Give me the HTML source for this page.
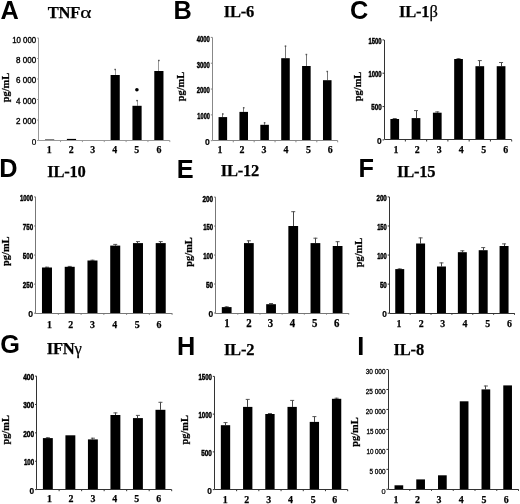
<!DOCTYPE html>
<html><head><meta charset="utf-8"><style>
html,body{margin:0;padding:0;background:#fff;}
svg{display:block;will-change:transform;}
</style></head><body>
<svg width="520" height="504" viewBox="0 0 520 504">
<rect width="520" height="504" fill="#fff"/>
<text x="0.57" y="18.6" font-family="&quot;Liberation Sans&quot;, sans-serif" font-weight="bold" font-size="25.3">A</text>
<text x="47.70" y="17.9" font-family="&quot;Liberation Serif&quot;, serif" font-weight="bold" font-size="16.5" letter-spacing="-0.2" stroke="#000" stroke-width="0.25">TNF</text>
<text transform="translate(8.6,87.55) rotate(-90)" text-anchor="middle" font-family="&quot;Liberation Serif&quot;, serif" font-weight="bold" font-size="10.4" stroke="#000" stroke-width="0.25">pg/mL</text>
<rect x="45.04" y="139.50" width="9.18" height="1.00" fill="#000"/>
<rect x="66.89" y="138.90" width="9.18" height="1.60" fill="#000"/>
<rect x="88.74" y="140.20" width="9.18" height="0.30" fill="#000"/>
<line x1="115.50" y1="75.00" x2="115.50" y2="69.00" stroke="#999" stroke-width="1"/>
<rect x="114.38" y="68.80" width="1.6" height="1.4" fill="#555"/>
<rect x="110.59" y="75.00" width="9.18" height="65.50" fill="#000"/>
<line x1="137.50" y1="105.80" x2="137.50" y2="100.10" stroke="#999" stroke-width="1"/>
<rect x="136.23" y="99.90" width="1.6" height="1.4" fill="#555"/>
<rect x="132.44" y="105.80" width="9.18" height="34.70" fill="#000"/>
<line x1="158.50" y1="71.00" x2="158.50" y2="60.00" stroke="#999" stroke-width="1"/>
<rect x="158.08" y="59.80" width="1.6" height="1.4" fill="#555"/>
<rect x="154.29" y="71.00" width="9.18" height="69.50" fill="#000"/>
<path d="M38.5,38.00 V140.5 H169.80" fill="none" stroke="#999" stroke-width="1"/>
<line x1="37.10" y1="38.00" x2="38.7" y2="38.00" stroke="#999" stroke-width="1"/>
<text x="36.20" y="42.90" text-anchor="end" font-family="&quot;Liberation Sans&quot;, sans-serif" font-size="8.2" font-weight="normal" stroke="#000" stroke-width="0.35" textLength="24.01" lengthAdjust="spacingAndGlyphs">10 000</text>
<line x1="37.10" y1="58.50" x2="38.7" y2="58.50" stroke="#999" stroke-width="1"/>
<text x="36.20" y="62.60" text-anchor="end" font-family="&quot;Liberation Sans&quot;, sans-serif" font-size="8.2" font-weight="normal" stroke="#000" stroke-width="0.35" textLength="20.13" lengthAdjust="spacingAndGlyphs">8 000</text>
<line x1="37.10" y1="79.00" x2="38.7" y2="79.00" stroke="#999" stroke-width="1"/>
<text x="36.20" y="83.10" text-anchor="end" font-family="&quot;Liberation Sans&quot;, sans-serif" font-size="8.2" font-weight="normal" stroke="#000" stroke-width="0.35" textLength="20.13" lengthAdjust="spacingAndGlyphs">6 000</text>
<line x1="37.10" y1="99.50" x2="38.7" y2="99.50" stroke="#999" stroke-width="1"/>
<text x="36.20" y="103.60" text-anchor="end" font-family="&quot;Liberation Sans&quot;, sans-serif" font-size="8.2" font-weight="normal" stroke="#000" stroke-width="0.35" textLength="20.13" lengthAdjust="spacingAndGlyphs">4 000</text>
<line x1="37.10" y1="120.00" x2="38.7" y2="120.00" stroke="#999" stroke-width="1"/>
<text x="36.20" y="124.10" text-anchor="end" font-family="&quot;Liberation Sans&quot;, sans-serif" font-size="8.2" font-weight="normal" stroke="#000" stroke-width="0.35" textLength="20.13" lengthAdjust="spacingAndGlyphs">2 000</text>
<line x1="37.10" y1="140.50" x2="38.7" y2="140.50" stroke="#999" stroke-width="1"/>
<text x="36.20" y="144.60" text-anchor="end" font-family="&quot;Liberation Sans&quot;, sans-serif" font-size="8.2" font-weight="normal" stroke="#000" stroke-width="0.24">0</text>
<line x1="60.55" y1="140.5" x2="60.55" y2="142.10" stroke="#999" stroke-width="1"/>
<line x1="82.40" y1="140.5" x2="82.40" y2="142.10" stroke="#999" stroke-width="1"/>
<line x1="104.25" y1="140.5" x2="104.25" y2="142.10" stroke="#999" stroke-width="1"/>
<line x1="126.10" y1="140.5" x2="126.10" y2="142.10" stroke="#999" stroke-width="1"/>
<line x1="147.95" y1="140.5" x2="147.95" y2="142.10" stroke="#999" stroke-width="1"/>
<line x1="169.80" y1="140.5" x2="169.80" y2="142.10" stroke="#999" stroke-width="1"/>
<text x="49.1" y="153.0" text-anchor="middle" font-family="&quot;Liberation Serif&quot;, serif" font-weight="bold" font-size="11.0" textLength="4.95" lengthAdjust="spacingAndGlyphs" stroke="#000" stroke-width="0.25">1</text>
<text x="71.25" y="153.0" text-anchor="middle" font-family="&quot;Liberation Serif&quot;, serif" font-weight="bold" font-size="11.0" textLength="4.95" lengthAdjust="spacingAndGlyphs" stroke="#000" stroke-width="0.25">2</text>
<text x="92.75" y="153.0" text-anchor="middle" font-family="&quot;Liberation Serif&quot;, serif" font-weight="bold" font-size="11.0" textLength="4.95" lengthAdjust="spacingAndGlyphs" stroke="#000" stroke-width="0.25">3</text>
<text x="114.8" y="153.0" text-anchor="middle" font-family="&quot;Liberation Serif&quot;, serif" font-weight="bold" font-size="11.0" textLength="4.95" lengthAdjust="spacingAndGlyphs" stroke="#000" stroke-width="0.25">4</text>
<text x="136.8" y="153.0" text-anchor="middle" font-family="&quot;Liberation Serif&quot;, serif" font-weight="bold" font-size="11.0" textLength="4.95" lengthAdjust="spacingAndGlyphs" stroke="#000" stroke-width="0.25">5</text>
<text x="158.95" y="153.0" text-anchor="middle" font-family="&quot;Liberation Serif&quot;, serif" font-weight="bold" font-size="11.0" textLength="4.95" lengthAdjust="spacingAndGlyphs" stroke="#000" stroke-width="0.25">6</text>
<circle cx="136.9" cy="89.7" r="1.8" fill="#000"/><text transform="translate(80.2,17.9) scale(1.3,1)" font-family="&quot;Liberation Serif&quot;, serif" font-size="16.5" stroke="#000" stroke-width="0.2">α</text>
<text x="173.50" y="18.6" font-family="&quot;Liberation Sans&quot;, sans-serif" font-weight="bold" font-size="25.3">B</text>
<text x="223.70" y="17.1" font-family="&quot;Liberation Serif&quot;, serif" font-weight="bold" font-size="16.5" letter-spacing="-0.2" stroke="#000" stroke-width="0.25">IL-6</text>
<text transform="translate(183.7,86.55) rotate(-90)" text-anchor="middle" font-family="&quot;Liberation Serif&quot;, serif" font-weight="bold" font-size="10.4" stroke="#000" stroke-width="0.25">pg/mL</text>
<line x1="222.50" y1="117.10" x2="222.50" y2="113.50" stroke="#777" stroke-width="1"/>
<rect x="222.04" y="113.30" width="1.6" height="1.4" fill="#555"/>
<rect x="218.56" y="117.10" width="8.56" height="23.60" fill="#000"/>
<line x1="243.50" y1="111.90" x2="243.50" y2="107.30" stroke="#777" stroke-width="1"/>
<rect x="242.92" y="107.10" width="1.6" height="1.4" fill="#555"/>
<rect x="239.44" y="111.90" width="8.56" height="28.80" fill="#000"/>
<line x1="264.50" y1="124.80" x2="264.50" y2="122.30" stroke="#777" stroke-width="1"/>
<rect x="263.81" y="122.10" width="1.6" height="1.4" fill="#555"/>
<rect x="260.33" y="124.80" width="8.56" height="15.90" fill="#000"/>
<line x1="285.50" y1="58.20" x2="285.50" y2="45.70" stroke="#777" stroke-width="1"/>
<rect x="284.69" y="45.50" width="1.6" height="1.4" fill="#555"/>
<rect x="281.21" y="58.20" width="8.56" height="82.50" fill="#000"/>
<line x1="306.50" y1="66.00" x2="306.50" y2="54.00" stroke="#777" stroke-width="1"/>
<rect x="305.57" y="53.80" width="1.6" height="1.4" fill="#555"/>
<rect x="302.09" y="66.00" width="8.56" height="74.70" fill="#000"/>
<line x1="327.50" y1="80.20" x2="327.50" y2="71.00" stroke="#777" stroke-width="1"/>
<rect x="326.46" y="70.80" width="1.6" height="1.4" fill="#555"/>
<rect x="322.98" y="80.20" width="8.56" height="60.50" fill="#000"/>
<path d="M212.5,37.40 V140.5 H337.70" fill="none" stroke="#888" stroke-width="1"/>
<line x1="210.80" y1="37.40" x2="212.4" y2="37.40" stroke="#888" stroke-width="1"/>
<text x="209.90" y="41.70" text-anchor="end" font-family="&quot;Liberation Sans&quot;, sans-serif" font-size="8.6" font-weight="bold" stroke="#000" stroke-width="0.45" textLength="13.20" lengthAdjust="spacingAndGlyphs">4000</text>
<line x1="210.80" y1="63.22" x2="212.4" y2="63.22" stroke="#888" stroke-width="1"/>
<text x="209.90" y="67.52" text-anchor="end" font-family="&quot;Liberation Sans&quot;, sans-serif" font-size="8.6" font-weight="bold" stroke="#000" stroke-width="0.45" textLength="13.20" lengthAdjust="spacingAndGlyphs">3000</text>
<line x1="210.80" y1="89.05" x2="212.4" y2="89.05" stroke="#888" stroke-width="1"/>
<text x="209.90" y="93.35" text-anchor="end" font-family="&quot;Liberation Sans&quot;, sans-serif" font-size="8.6" font-weight="bold" stroke="#000" stroke-width="0.45" textLength="13.20" lengthAdjust="spacingAndGlyphs">2000</text>
<line x1="210.80" y1="114.88" x2="212.4" y2="114.88" stroke="#888" stroke-width="1"/>
<text x="209.90" y="119.17" text-anchor="end" font-family="&quot;Liberation Sans&quot;, sans-serif" font-size="8.6" font-weight="bold" stroke="#000" stroke-width="0.45" textLength="12.54" lengthAdjust="spacingAndGlyphs">1000</text>
<line x1="210.80" y1="140.70" x2="212.4" y2="140.70" stroke="#888" stroke-width="1"/>
<text x="209.90" y="145.00" text-anchor="end" font-family="&quot;Liberation Sans&quot;, sans-serif" font-size="8.6" font-weight="bold" stroke="#000" stroke-width="0.21">0</text>
<line x1="233.28" y1="140.7" x2="233.28" y2="142.30" stroke="#888" stroke-width="1"/>
<line x1="254.17" y1="140.7" x2="254.17" y2="142.30" stroke="#888" stroke-width="1"/>
<line x1="275.05" y1="140.7" x2="275.05" y2="142.30" stroke="#888" stroke-width="1"/>
<line x1="295.93" y1="140.7" x2="295.93" y2="142.30" stroke="#888" stroke-width="1"/>
<line x1="316.82" y1="140.7" x2="316.82" y2="142.30" stroke="#888" stroke-width="1"/>
<line x1="337.70" y1="140.7" x2="337.70" y2="142.30" stroke="#888" stroke-width="1"/>
<text x="220.0" y="153.2" text-anchor="middle" font-family="&quot;Liberation Serif&quot;, serif" font-weight="bold" font-size="11.0" textLength="4.95" lengthAdjust="spacingAndGlyphs" stroke="#000" stroke-width="0.25">1</text>
<text x="242.0" y="153.2" text-anchor="middle" font-family="&quot;Liberation Serif&quot;, serif" font-weight="bold" font-size="11.0" textLength="4.95" lengthAdjust="spacingAndGlyphs" stroke="#000" stroke-width="0.25">2</text>
<text x="263.9" y="153.2" text-anchor="middle" font-family="&quot;Liberation Serif&quot;, serif" font-weight="bold" font-size="11.0" textLength="4.95" lengthAdjust="spacingAndGlyphs" stroke="#000" stroke-width="0.25">3</text>
<text x="285.9" y="153.2" text-anchor="middle" font-family="&quot;Liberation Serif&quot;, serif" font-weight="bold" font-size="11.0" textLength="4.95" lengthAdjust="spacingAndGlyphs" stroke="#000" stroke-width="0.25">4</text>
<text x="308.4" y="153.2" text-anchor="middle" font-family="&quot;Liberation Serif&quot;, serif" font-weight="bold" font-size="11.0" textLength="4.95" lengthAdjust="spacingAndGlyphs" stroke="#000" stroke-width="0.25">5</text>
<text x="330.3" y="153.2" text-anchor="middle" font-family="&quot;Liberation Serif&quot;, serif" font-weight="bold" font-size="11.0" textLength="4.95" lengthAdjust="spacingAndGlyphs" stroke="#000" stroke-width="0.25">6</text>
<text x="349.96" y="18.5" font-family="&quot;Liberation Sans&quot;, sans-serif" font-weight="bold" font-size="25.3">C</text>
<text x="399.00" y="17.4" font-family="&quot;Liberation Serif&quot;, serif" font-weight="bold" font-size="16.5" letter-spacing="-0.2" stroke="#000" stroke-width="0.25">IL-1<tspan font-weight="normal">β</tspan></text>
<text transform="translate(360.7,86.45) rotate(-90)" text-anchor="middle" font-family="&quot;Liberation Serif&quot;, serif" font-weight="bold" font-size="10.4" stroke="#000" stroke-width="0.25">pg/mL</text>
<line x1="394.50" y1="119.00" x2="394.50" y2="118.10" stroke="#444" stroke-width="1"/>
<line x1="392.73" y1="118.50" x2="396.73" y2="118.50" stroke="#555" stroke-width="1"/>
<rect x="390.37" y="119.00" width="8.72" height="20.90" fill="#000"/>
<line x1="416.50" y1="118.10" x2="416.50" y2="110.20" stroke="#444" stroke-width="1"/>
<line x1="414.00" y1="110.60" x2="418.00" y2="110.60" stroke="#555" stroke-width="1"/>
<rect x="411.64" y="118.10" width="8.72" height="21.80" fill="#000"/>
<line x1="437.50" y1="112.70" x2="437.50" y2="111.50" stroke="#444" stroke-width="1"/>
<line x1="435.27" y1="111.90" x2="439.27" y2="111.90" stroke="#555" stroke-width="1"/>
<rect x="432.91" y="112.70" width="8.72" height="27.20" fill="#000"/>
<line x1="458.50" y1="59.00" x2="458.50" y2="58.30" stroke="#444" stroke-width="1"/>
<line x1="456.53" y1="58.70" x2="460.53" y2="58.70" stroke="#555" stroke-width="1"/>
<rect x="454.17" y="59.00" width="8.72" height="80.90" fill="#000"/>
<line x1="479.50" y1="66.20" x2="479.50" y2="60.20" stroke="#444" stroke-width="1"/>
<line x1="477.80" y1="60.60" x2="481.80" y2="60.60" stroke="#555" stroke-width="1"/>
<rect x="475.44" y="66.20" width="8.72" height="73.70" fill="#000"/>
<line x1="501.50" y1="66.20" x2="501.50" y2="62.10" stroke="#444" stroke-width="1"/>
<line x1="499.07" y1="62.50" x2="503.07" y2="62.50" stroke="#555" stroke-width="1"/>
<rect x="496.71" y="66.20" width="8.72" height="73.70" fill="#000"/>
<path d="M384.5,39.90 V139.5 H511.70" fill="none" stroke="#333" stroke-width="1"/>
<line x1="382.50" y1="39.90" x2="384.1" y2="39.90" stroke="#333" stroke-width="1"/>
<text x="381.60" y="43.80" text-anchor="end" font-family="&quot;Liberation Sans&quot;, sans-serif" font-size="8.3" font-weight="bold" stroke="#000" stroke-width="0.45" textLength="13.11" lengthAdjust="spacingAndGlyphs">1500</text>
<line x1="382.50" y1="73.23" x2="384.1" y2="73.23" stroke="#333" stroke-width="1"/>
<text x="381.60" y="77.13" text-anchor="end" font-family="&quot;Liberation Sans&quot;, sans-serif" font-size="8.3" font-weight="bold" stroke="#000" stroke-width="0.45" textLength="13.11" lengthAdjust="spacingAndGlyphs">1000</text>
<line x1="382.50" y1="106.57" x2="384.1" y2="106.57" stroke="#333" stroke-width="1"/>
<text x="381.60" y="110.47" text-anchor="end" font-family="&quot;Liberation Sans&quot;, sans-serif" font-size="8.3" font-weight="bold" stroke="#000" stroke-width="0.45" textLength="10.35" lengthAdjust="spacingAndGlyphs">500</text>
<line x1="382.50" y1="139.90" x2="384.1" y2="139.90" stroke="#333" stroke-width="1"/>
<text x="381.60" y="143.80" text-anchor="end" font-family="&quot;Liberation Sans&quot;, sans-serif" font-size="8.3" font-weight="bold" stroke="#000" stroke-width="0.21">0</text>
<line x1="405.37" y1="139.9" x2="405.37" y2="141.50" stroke="#333" stroke-width="1"/>
<line x1="426.63" y1="139.9" x2="426.63" y2="141.50" stroke="#333" stroke-width="1"/>
<line x1="447.90" y1="139.9" x2="447.90" y2="141.50" stroke="#333" stroke-width="1"/>
<line x1="469.17" y1="139.9" x2="469.17" y2="141.50" stroke="#333" stroke-width="1"/>
<line x1="490.43" y1="139.9" x2="490.43" y2="141.50" stroke="#333" stroke-width="1"/>
<line x1="511.70" y1="139.9" x2="511.70" y2="141.50" stroke="#333" stroke-width="1"/>
<text x="396.0" y="153.0" text-anchor="middle" font-family="&quot;Liberation Serif&quot;, serif" font-weight="bold" font-size="11.0" textLength="4.95" lengthAdjust="spacingAndGlyphs" stroke="#000" stroke-width="0.25">1</text>
<text x="417.1" y="153.0" text-anchor="middle" font-family="&quot;Liberation Serif&quot;, serif" font-weight="bold" font-size="11.0" textLength="4.95" lengthAdjust="spacingAndGlyphs" stroke="#000" stroke-width="0.25">2</text>
<text x="439.1" y="153.0" text-anchor="middle" font-family="&quot;Liberation Serif&quot;, serif" font-weight="bold" font-size="11.0" textLength="4.95" lengthAdjust="spacingAndGlyphs" stroke="#000" stroke-width="0.25">3</text>
<text x="461.1" y="153.0" text-anchor="middle" font-family="&quot;Liberation Serif&quot;, serif" font-weight="bold" font-size="11.0" textLength="4.95" lengthAdjust="spacingAndGlyphs" stroke="#000" stroke-width="0.25">4</text>
<text x="483.6" y="153.0" text-anchor="middle" font-family="&quot;Liberation Serif&quot;, serif" font-weight="bold" font-size="11.0" textLength="4.95" lengthAdjust="spacingAndGlyphs" stroke="#000" stroke-width="0.25">5</text>
<text x="505.7" y="153.0" text-anchor="middle" font-family="&quot;Liberation Serif&quot;, serif" font-weight="bold" font-size="11.0" textLength="4.95" lengthAdjust="spacingAndGlyphs" stroke="#000" stroke-width="0.25">6</text>
<text x="-0.70" y="176.7" font-family="&quot;Liberation Sans&quot;, sans-serif" font-weight="bold" font-size="25.3">D</text>
<text x="47.20" y="176.5" font-family="&quot;Liberation Serif&quot;, serif" font-weight="bold" font-size="16.5" letter-spacing="-0.2" stroke="#000" stroke-width="0.25">IL-10</text>
<text transform="translate(8.7,251.20) rotate(-90)" text-anchor="middle" font-family="&quot;Liberation Serif&quot;, serif" font-weight="bold" font-size="10.4" stroke="#000" stroke-width="0.25">pg/mL</text>
<line x1="46.50" y1="267.50" x2="46.50" y2="266.80" stroke="#444" stroke-width="1"/>
<line x1="44.98" y1="267.20" x2="48.98" y2="267.20" stroke="#555" stroke-width="1"/>
<rect x="41.97" y="267.50" width="10.01" height="45.70" fill="#000"/>
<line x1="69.50" y1="266.80" x2="69.50" y2="266.00" stroke="#444" stroke-width="1"/>
<line x1="67.72" y1="266.40" x2="71.72" y2="266.40" stroke="#555" stroke-width="1"/>
<rect x="64.72" y="266.80" width="10.01" height="46.40" fill="#000"/>
<line x1="92.50" y1="260.50" x2="92.50" y2="259.80" stroke="#444" stroke-width="1"/>
<line x1="90.47" y1="260.20" x2="94.47" y2="260.20" stroke="#555" stroke-width="1"/>
<rect x="87.47" y="260.50" width="10.01" height="52.70" fill="#000"/>
<line x1="115.50" y1="245.60" x2="115.50" y2="244.00" stroke="#444" stroke-width="1"/>
<line x1="113.22" y1="244.40" x2="117.22" y2="244.40" stroke="#555" stroke-width="1"/>
<rect x="110.22" y="245.60" width="10.01" height="67.60" fill="#000"/>
<line x1="137.50" y1="243.10" x2="137.50" y2="241.20" stroke="#444" stroke-width="1"/>
<line x1="135.97" y1="241.60" x2="139.97" y2="241.60" stroke="#555" stroke-width="1"/>
<rect x="132.97" y="243.10" width="10.01" height="70.10" fill="#000"/>
<line x1="160.50" y1="243.10" x2="160.50" y2="241.20" stroke="#444" stroke-width="1"/>
<line x1="158.72" y1="241.60" x2="162.72" y2="241.60" stroke="#555" stroke-width="1"/>
<rect x="155.72" y="243.10" width="10.01" height="70.10" fill="#000"/>
<path d="M35.5,196.90 V313.5 H172.10" fill="none" stroke="#777" stroke-width="1"/>
<line x1="34.00" y1="196.90" x2="35.6" y2="196.90" stroke="#777" stroke-width="1"/>
<text x="33.10" y="200.70" text-anchor="end" font-family="&quot;Liberation Sans&quot;, sans-serif" font-size="8.6" font-weight="bold" stroke="#000" stroke-width="0.45" textLength="13.11" lengthAdjust="spacingAndGlyphs">1000</text>
<line x1="34.00" y1="225.97" x2="35.6" y2="225.97" stroke="#777" stroke-width="1"/>
<text x="33.10" y="229.78" text-anchor="end" font-family="&quot;Liberation Sans&quot;, sans-serif" font-size="8.6" font-weight="bold" stroke="#000" stroke-width="0.45" textLength="10.35" lengthAdjust="spacingAndGlyphs">750</text>
<line x1="34.00" y1="255.05" x2="35.6" y2="255.05" stroke="#777" stroke-width="1"/>
<text x="33.10" y="258.85" text-anchor="end" font-family="&quot;Liberation Sans&quot;, sans-serif" font-size="8.6" font-weight="bold" stroke="#000" stroke-width="0.45" textLength="10.35" lengthAdjust="spacingAndGlyphs">500</text>
<line x1="34.00" y1="284.12" x2="35.6" y2="284.12" stroke="#777" stroke-width="1"/>
<text x="33.10" y="287.93" text-anchor="end" font-family="&quot;Liberation Sans&quot;, sans-serif" font-size="8.6" font-weight="bold" stroke="#000" stroke-width="0.45" textLength="10.35" lengthAdjust="spacingAndGlyphs">250</text>
<line x1="34.00" y1="313.20" x2="35.6" y2="313.20" stroke="#777" stroke-width="1"/>
<text x="33.10" y="317.00" text-anchor="end" font-family="&quot;Liberation Sans&quot;, sans-serif" font-size="8.6" font-weight="bold" stroke="#000" stroke-width="0.21">0</text>
<line x1="58.35" y1="313.2" x2="58.35" y2="314.80" stroke="#777" stroke-width="1"/>
<line x1="81.10" y1="313.2" x2="81.10" y2="314.80" stroke="#777" stroke-width="1"/>
<line x1="103.85" y1="313.2" x2="103.85" y2="314.80" stroke="#777" stroke-width="1"/>
<line x1="126.60" y1="313.2" x2="126.60" y2="314.80" stroke="#777" stroke-width="1"/>
<line x1="149.35" y1="313.2" x2="149.35" y2="314.80" stroke="#777" stroke-width="1"/>
<line x1="172.10" y1="313.2" x2="172.10" y2="314.80" stroke="#777" stroke-width="1"/>
<text x="49.4" y="327.8" text-anchor="middle" font-family="&quot;Liberation Serif&quot;, serif" font-weight="bold" font-size="11.0" textLength="4.95" lengthAdjust="spacingAndGlyphs" stroke="#000" stroke-width="0.25">1</text>
<text x="70.6" y="327.8" text-anchor="middle" font-family="&quot;Liberation Serif&quot;, serif" font-weight="bold" font-size="11.0" textLength="4.95" lengthAdjust="spacingAndGlyphs" stroke="#000" stroke-width="0.25">2</text>
<text x="92.4" y="327.8" text-anchor="middle" font-family="&quot;Liberation Serif&quot;, serif" font-weight="bold" font-size="11.0" textLength="4.95" lengthAdjust="spacingAndGlyphs" stroke="#000" stroke-width="0.25">3</text>
<text x="114.7" y="327.8" text-anchor="middle" font-family="&quot;Liberation Serif&quot;, serif" font-weight="bold" font-size="11.0" textLength="4.95" lengthAdjust="spacingAndGlyphs" stroke="#000" stroke-width="0.25">4</text>
<text x="137.2" y="327.8" text-anchor="middle" font-family="&quot;Liberation Serif&quot;, serif" font-weight="bold" font-size="11.0" textLength="4.95" lengthAdjust="spacingAndGlyphs" stroke="#000" stroke-width="0.25">5</text>
<text x="159.05" y="327.8" text-anchor="middle" font-family="&quot;Liberation Serif&quot;, serif" font-weight="bold" font-size="11.0" textLength="4.95" lengthAdjust="spacingAndGlyphs" stroke="#000" stroke-width="0.25">6</text>
<text x="176.70" y="177.7" font-family="&quot;Liberation Sans&quot;, sans-serif" font-weight="bold" font-size="25.3">E</text>
<text x="220.70" y="175.9" font-family="&quot;Liberation Serif&quot;, serif" font-weight="bold" font-size="16.5" letter-spacing="-0.2" stroke="#000" stroke-width="0.25">IL-12</text>
<text transform="translate(191.7,252.00) rotate(-90)" text-anchor="middle" font-family="&quot;Liberation Serif&quot;, serif" font-weight="bold" font-size="10.4" stroke="#000" stroke-width="0.25">pg/mL</text>
<line x1="226.50" y1="307.10" x2="226.50" y2="306.40" stroke="#444" stroke-width="1"/>
<line x1="224.69" y1="306.80" x2="228.69" y2="306.80" stroke="#555" stroke-width="1"/>
<rect x="221.81" y="307.10" width="9.76" height="5.90" fill="#000"/>
<line x1="248.50" y1="243.10" x2="248.50" y2="240.40" stroke="#444" stroke-width="1"/>
<line x1="246.88" y1="240.80" x2="250.88" y2="240.80" stroke="#555" stroke-width="1"/>
<rect x="243.99" y="243.10" width="9.76" height="69.90" fill="#000"/>
<line x1="271.50" y1="304.20" x2="271.50" y2="303.10" stroke="#444" stroke-width="1"/>
<line x1="269.06" y1="303.50" x2="273.06" y2="303.50" stroke="#555" stroke-width="1"/>
<rect x="266.18" y="304.20" width="9.76" height="8.80" fill="#000"/>
<line x1="293.50" y1="226.00" x2="293.50" y2="211.30" stroke="#444" stroke-width="1"/>
<line x1="291.24" y1="211.70" x2="295.24" y2="211.70" stroke="#555" stroke-width="1"/>
<rect x="288.36" y="226.00" width="9.76" height="87.00" fill="#000"/>
<line x1="315.50" y1="243.10" x2="315.50" y2="237.80" stroke="#444" stroke-width="1"/>
<line x1="313.43" y1="238.20" x2="317.43" y2="238.20" stroke="#555" stroke-width="1"/>
<rect x="310.54" y="243.10" width="9.76" height="69.90" fill="#000"/>
<line x1="337.50" y1="246.00" x2="337.50" y2="241.30" stroke="#444" stroke-width="1"/>
<line x1="335.61" y1="241.70" x2="339.61" y2="241.70" stroke="#555" stroke-width="1"/>
<rect x="332.73" y="246.00" width="9.76" height="67.00" fill="#000"/>
<path d="M215.5,197.10 V313.5 H348.70" fill="none" stroke="#777" stroke-width="1"/>
<line x1="214.00" y1="197.10" x2="215.6" y2="197.10" stroke="#777" stroke-width="1"/>
<text x="213.10" y="201.50" text-anchor="end" font-family="&quot;Liberation Sans&quot;, sans-serif" font-size="8.4" font-weight="bold" stroke="#000" stroke-width="0.45" textLength="10.65" lengthAdjust="spacingAndGlyphs">200</text>
<line x1="214.00" y1="226.07" x2="215.6" y2="226.07" stroke="#777" stroke-width="1"/>
<text x="213.10" y="230.47" text-anchor="end" font-family="&quot;Liberation Sans&quot;, sans-serif" font-size="8.4" font-weight="bold" stroke="#000" stroke-width="0.45" textLength="9.94" lengthAdjust="spacingAndGlyphs">150</text>
<line x1="214.00" y1="255.05" x2="215.6" y2="255.05" stroke="#777" stroke-width="1"/>
<text x="213.10" y="259.45" text-anchor="end" font-family="&quot;Liberation Sans&quot;, sans-serif" font-size="8.4" font-weight="bold" stroke="#000" stroke-width="0.45" textLength="9.94" lengthAdjust="spacingAndGlyphs">100</text>
<line x1="214.00" y1="284.02" x2="215.6" y2="284.02" stroke="#777" stroke-width="1"/>
<text x="213.10" y="288.42" text-anchor="end" font-family="&quot;Liberation Sans&quot;, sans-serif" font-size="8.4" font-weight="bold" stroke="#000" stroke-width="0.45" textLength="7.10" lengthAdjust="spacingAndGlyphs">50</text>
<line x1="214.00" y1="313.00" x2="215.6" y2="313.00" stroke="#777" stroke-width="1"/>
<text x="213.10" y="317.40" text-anchor="end" font-family="&quot;Liberation Sans&quot;, sans-serif" font-size="8.4" font-weight="bold" stroke="#000" stroke-width="0.21">0</text>
<line x1="237.78" y1="313.0" x2="237.78" y2="314.60" stroke="#777" stroke-width="1"/>
<line x1="259.97" y1="313.0" x2="259.97" y2="314.60" stroke="#777" stroke-width="1"/>
<line x1="282.15" y1="313.0" x2="282.15" y2="314.60" stroke="#777" stroke-width="1"/>
<line x1="304.33" y1="313.0" x2="304.33" y2="314.60" stroke="#777" stroke-width="1"/>
<line x1="326.52" y1="313.0" x2="326.52" y2="314.60" stroke="#777" stroke-width="1"/>
<line x1="348.70" y1="313.0" x2="348.70" y2="314.60" stroke="#777" stroke-width="1"/>
<text x="226.9" y="326.6" text-anchor="middle" font-family="&quot;Liberation Serif&quot;, serif" font-weight="bold" font-size="12.0" textLength="5.40" lengthAdjust="spacingAndGlyphs" stroke="#000" stroke-width="0.25">1</text>
<text x="248.9" y="326.6" text-anchor="middle" font-family="&quot;Liberation Serif&quot;, serif" font-weight="bold" font-size="12.0" textLength="5.40" lengthAdjust="spacingAndGlyphs" stroke="#000" stroke-width="0.25">2</text>
<text x="270.5" y="326.6" text-anchor="middle" font-family="&quot;Liberation Serif&quot;, serif" font-weight="bold" font-size="12.0" textLength="5.40" lengthAdjust="spacingAndGlyphs" stroke="#000" stroke-width="0.25">3</text>
<text x="292.4" y="326.6" text-anchor="middle" font-family="&quot;Liberation Serif&quot;, serif" font-weight="bold" font-size="12.0" textLength="5.40" lengthAdjust="spacingAndGlyphs" stroke="#000" stroke-width="0.25">4</text>
<text x="314.65" y="326.6" text-anchor="middle" font-family="&quot;Liberation Serif&quot;, serif" font-weight="bold" font-size="12.0" textLength="5.40" lengthAdjust="spacingAndGlyphs" stroke="#000" stroke-width="0.25">5</text>
<text x="336.7" y="326.6" text-anchor="middle" font-family="&quot;Liberation Serif&quot;, serif" font-weight="bold" font-size="12.0" textLength="5.40" lengthAdjust="spacingAndGlyphs" stroke="#000" stroke-width="0.25">6</text>
<text x="358.50" y="176.7" font-family="&quot;Liberation Sans&quot;, sans-serif" font-weight="bold" font-size="25.3">F</text>
<text x="397.00" y="176.5" font-family="&quot;Liberation Serif&quot;, serif" font-weight="bold" font-size="16.5" letter-spacing="-0.2" stroke="#000" stroke-width="0.25">IL-15</text>
<text transform="translate(361.7,252.60) rotate(-90)" text-anchor="middle" font-family="&quot;Liberation Serif&quot;, serif" font-weight="bold" font-size="10.4" stroke="#000" stroke-width="0.25">pg/mL</text>
<line x1="399.50" y1="269.10" x2="399.50" y2="268.50" stroke="#444" stroke-width="1"/>
<line x1="397.73" y1="268.90" x2="401.73" y2="268.90" stroke="#555" stroke-width="1"/>
<rect x="395.25" y="269.10" width="8.97" height="44.10" fill="#000"/>
<line x1="420.50" y1="243.50" x2="420.50" y2="237.50" stroke="#444" stroke-width="1"/>
<line x1="418.60" y1="237.90" x2="422.60" y2="237.90" stroke="#555" stroke-width="1"/>
<rect x="416.11" y="243.50" width="8.97" height="69.70" fill="#000"/>
<line x1="441.50" y1="266.50" x2="441.50" y2="262.50" stroke="#444" stroke-width="1"/>
<line x1="439.47" y1="262.90" x2="443.47" y2="262.90" stroke="#555" stroke-width="1"/>
<rect x="436.98" y="266.50" width="8.97" height="46.70" fill="#000"/>
<line x1="462.50" y1="252.20" x2="462.50" y2="250.40" stroke="#444" stroke-width="1"/>
<line x1="460.33" y1="250.80" x2="464.33" y2="250.80" stroke="#555" stroke-width="1"/>
<rect x="457.85" y="252.20" width="8.97" height="61.00" fill="#000"/>
<line x1="483.50" y1="250.20" x2="483.50" y2="247.20" stroke="#444" stroke-width="1"/>
<line x1="481.20" y1="247.60" x2="485.20" y2="247.60" stroke="#555" stroke-width="1"/>
<rect x="478.71" y="250.20" width="8.97" height="63.00" fill="#000"/>
<line x1="504.50" y1="246.00" x2="504.50" y2="243.50" stroke="#444" stroke-width="1"/>
<line x1="502.07" y1="243.90" x2="506.07" y2="243.90" stroke="#555" stroke-width="1"/>
<rect x="499.58" y="246.00" width="8.97" height="67.20" fill="#000"/>
<path d="M389.5,196.90 V313.5 H514.50" fill="none" stroke="#333" stroke-width="1"/>
<line x1="387.70" y1="196.90" x2="389.3" y2="196.90" stroke="#333" stroke-width="1"/>
<text x="386.80" y="200.80" text-anchor="end" font-family="&quot;Liberation Sans&quot;, sans-serif" font-size="8.3" font-weight="bold" stroke="#000" stroke-width="0.45" textLength="10.35" lengthAdjust="spacingAndGlyphs">200</text>
<line x1="387.70" y1="225.97" x2="389.3" y2="225.97" stroke="#333" stroke-width="1"/>
<text x="386.80" y="229.88" text-anchor="end" font-family="&quot;Liberation Sans&quot;, sans-serif" font-size="8.3" font-weight="bold" stroke="#000" stroke-width="0.45" textLength="9.66" lengthAdjust="spacingAndGlyphs">150</text>
<line x1="387.70" y1="255.05" x2="389.3" y2="255.05" stroke="#333" stroke-width="1"/>
<text x="386.80" y="258.95" text-anchor="end" font-family="&quot;Liberation Sans&quot;, sans-serif" font-size="8.3" font-weight="bold" stroke="#000" stroke-width="0.45" textLength="9.66" lengthAdjust="spacingAndGlyphs">100</text>
<line x1="387.70" y1="284.12" x2="389.3" y2="284.12" stroke="#333" stroke-width="1"/>
<text x="386.80" y="288.02" text-anchor="end" font-family="&quot;Liberation Sans&quot;, sans-serif" font-size="8.3" font-weight="bold" stroke="#000" stroke-width="0.45" textLength="6.90" lengthAdjust="spacingAndGlyphs">50</text>
<line x1="387.70" y1="313.20" x2="389.3" y2="313.20" stroke="#333" stroke-width="1"/>
<text x="386.80" y="317.10" text-anchor="end" font-family="&quot;Liberation Sans&quot;, sans-serif" font-size="8.3" font-weight="bold" stroke="#000" stroke-width="0.21">0</text>
<line x1="410.17" y1="313.2" x2="410.17" y2="314.80" stroke="#333" stroke-width="1"/>
<line x1="431.03" y1="313.2" x2="431.03" y2="314.80" stroke="#333" stroke-width="1"/>
<line x1="451.90" y1="313.2" x2="451.90" y2="314.80" stroke="#333" stroke-width="1"/>
<line x1="472.77" y1="313.2" x2="472.77" y2="314.80" stroke="#333" stroke-width="1"/>
<line x1="493.63" y1="313.2" x2="493.63" y2="314.80" stroke="#333" stroke-width="1"/>
<line x1="514.50" y1="313.2" x2="514.50" y2="314.80" stroke="#333" stroke-width="1"/>
<text x="399.0" y="326.7" text-anchor="middle" font-family="&quot;Liberation Serif&quot;, serif" font-weight="bold" font-size="11.0" textLength="4.95" lengthAdjust="spacingAndGlyphs" stroke="#000" stroke-width="0.25">1</text>
<text x="421.1" y="326.7" text-anchor="middle" font-family="&quot;Liberation Serif&quot;, serif" font-weight="bold" font-size="11.0" textLength="4.95" lengthAdjust="spacingAndGlyphs" stroke="#000" stroke-width="0.25">2</text>
<text x="442.8" y="326.7" text-anchor="middle" font-family="&quot;Liberation Serif&quot;, serif" font-weight="bold" font-size="11.0" textLength="4.95" lengthAdjust="spacingAndGlyphs" stroke="#000" stroke-width="0.25">3</text>
<text x="464.85" y="326.7" text-anchor="middle" font-family="&quot;Liberation Serif&quot;, serif" font-weight="bold" font-size="11.0" textLength="4.95" lengthAdjust="spacingAndGlyphs" stroke="#000" stroke-width="0.25">4</text>
<text x="487.7" y="326.7" text-anchor="middle" font-family="&quot;Liberation Serif&quot;, serif" font-weight="bold" font-size="11.0" textLength="4.95" lengthAdjust="spacingAndGlyphs" stroke="#000" stroke-width="0.25">5</text>
<text x="509.45" y="326.7" text-anchor="middle" font-family="&quot;Liberation Serif&quot;, serif" font-weight="bold" font-size="11.0" textLength="4.95" lengthAdjust="spacingAndGlyphs" stroke="#000" stroke-width="0.25">6</text>
<text x="0.16" y="352.9" font-family="&quot;Liberation Sans&quot;, sans-serif" font-weight="bold" font-size="25.3">G</text>
<text x="46.70" y="354.1" font-family="&quot;Liberation Serif&quot;, serif" font-weight="bold" font-size="16.5" letter-spacing="-0.2" stroke="#000" stroke-width="0.25">IFN<tspan font-weight="normal">γ</tspan></text>
<text transform="translate(8.7,429.90) rotate(-90)" text-anchor="middle" font-family="&quot;Liberation Serif&quot;, serif" font-weight="bold" font-size="10.4" stroke="#000" stroke-width="0.25">pg/mL</text>
<line x1="47.50" y1="438.10" x2="47.50" y2="437.30" stroke="#444" stroke-width="1"/>
<line x1="45.86" y1="437.70" x2="49.86" y2="437.70" stroke="#555" stroke-width="1"/>
<rect x="42.90" y="438.10" width="9.91" height="51.50" fill="#000"/>
<rect x="65.42" y="435.30" width="9.91" height="54.30" fill="#000"/>
<line x1="92.50" y1="439.40" x2="92.50" y2="437.80" stroke="#444" stroke-width="1"/>
<line x1="90.89" y1="438.20" x2="94.89" y2="438.20" stroke="#555" stroke-width="1"/>
<rect x="87.94" y="439.40" width="9.91" height="50.20" fill="#000"/>
<line x1="115.50" y1="415.00" x2="115.50" y2="412.50" stroke="#444" stroke-width="1"/>
<line x1="113.41" y1="412.90" x2="117.41" y2="412.90" stroke="#555" stroke-width="1"/>
<rect x="110.45" y="415.00" width="9.91" height="74.60" fill="#000"/>
<line x1="137.50" y1="418.10" x2="137.50" y2="415.00" stroke="#444" stroke-width="1"/>
<line x1="135.92" y1="415.40" x2="139.92" y2="415.40" stroke="#555" stroke-width="1"/>
<rect x="132.97" y="418.10" width="9.91" height="71.50" fill="#000"/>
<line x1="160.50" y1="409.80" x2="160.50" y2="401.90" stroke="#444" stroke-width="1"/>
<line x1="158.44" y1="402.30" x2="162.44" y2="402.30" stroke="#555" stroke-width="1"/>
<rect x="155.49" y="409.80" width="9.91" height="79.80" fill="#000"/>
<path d="M36.5,376.10 V489.5 H171.70" fill="none" stroke="#333" stroke-width="1"/>
<line x1="35.00" y1="376.10" x2="36.6" y2="376.10" stroke="#333" stroke-width="1"/>
<text x="34.10" y="380.00" text-anchor="end" font-family="&quot;Liberation Sans&quot;, sans-serif" font-size="8.3" font-weight="bold" stroke="#000" stroke-width="0.45" textLength="10.95" lengthAdjust="spacingAndGlyphs">400</text>
<line x1="35.00" y1="404.48" x2="36.6" y2="404.48" stroke="#333" stroke-width="1"/>
<text x="34.10" y="408.38" text-anchor="end" font-family="&quot;Liberation Sans&quot;, sans-serif" font-size="8.3" font-weight="bold" stroke="#000" stroke-width="0.45" textLength="10.95" lengthAdjust="spacingAndGlyphs">300</text>
<line x1="35.00" y1="432.85" x2="36.6" y2="432.85" stroke="#333" stroke-width="1"/>
<text x="34.10" y="436.75" text-anchor="end" font-family="&quot;Liberation Sans&quot;, sans-serif" font-size="8.3" font-weight="bold" stroke="#000" stroke-width="0.45" textLength="10.95" lengthAdjust="spacingAndGlyphs">200</text>
<line x1="35.00" y1="461.23" x2="36.6" y2="461.23" stroke="#333" stroke-width="1"/>
<text x="34.10" y="465.12" text-anchor="end" font-family="&quot;Liberation Sans&quot;, sans-serif" font-size="8.3" font-weight="bold" stroke="#000" stroke-width="0.45" textLength="10.22" lengthAdjust="spacingAndGlyphs">100</text>
<line x1="35.00" y1="489.60" x2="36.6" y2="489.60" stroke="#333" stroke-width="1"/>
<text x="34.10" y="493.50" text-anchor="end" font-family="&quot;Liberation Sans&quot;, sans-serif" font-size="8.3" font-weight="bold" stroke="#000" stroke-width="0.21">0</text>
<line x1="59.12" y1="489.6" x2="59.12" y2="491.20" stroke="#333" stroke-width="1"/>
<line x1="81.63" y1="489.6" x2="81.63" y2="491.20" stroke="#333" stroke-width="1"/>
<line x1="104.15" y1="489.6" x2="104.15" y2="491.20" stroke="#333" stroke-width="1"/>
<line x1="126.67" y1="489.6" x2="126.67" y2="491.20" stroke="#333" stroke-width="1"/>
<line x1="149.18" y1="489.6" x2="149.18" y2="491.20" stroke="#333" stroke-width="1"/>
<line x1="171.70" y1="489.6" x2="171.70" y2="491.20" stroke="#333" stroke-width="1"/>
<text x="49.5" y="502.2" text-anchor="middle" font-family="&quot;Liberation Serif&quot;, serif" font-weight="bold" font-size="11.0" textLength="4.95" lengthAdjust="spacingAndGlyphs" stroke="#000" stroke-width="0.25">1</text>
<text x="70.9" y="502.2" text-anchor="middle" font-family="&quot;Liberation Serif&quot;, serif" font-weight="bold" font-size="11.0" textLength="4.95" lengthAdjust="spacingAndGlyphs" stroke="#000" stroke-width="0.25">2</text>
<text x="92.9" y="502.2" text-anchor="middle" font-family="&quot;Liberation Serif&quot;, serif" font-weight="bold" font-size="11.0" textLength="4.95" lengthAdjust="spacingAndGlyphs" stroke="#000" stroke-width="0.25">3</text>
<text x="114.8" y="502.2" text-anchor="middle" font-family="&quot;Liberation Serif&quot;, serif" font-weight="bold" font-size="11.0" textLength="4.95" lengthAdjust="spacingAndGlyphs" stroke="#000" stroke-width="0.25">4</text>
<text x="136.6" y="502.2" text-anchor="middle" font-family="&quot;Liberation Serif&quot;, serif" font-weight="bold" font-size="11.0" textLength="4.95" lengthAdjust="spacingAndGlyphs" stroke="#000" stroke-width="0.25">5</text>
<text x="158.7" y="502.2" text-anchor="middle" font-family="&quot;Liberation Serif&quot;, serif" font-weight="bold" font-size="11.0" textLength="4.95" lengthAdjust="spacingAndGlyphs" stroke="#000" stroke-width="0.25">6</text>
<text x="177.00" y="354.6" font-family="&quot;Liberation Sans&quot;, sans-serif" font-weight="bold" font-size="25.3">H</text>
<text x="223.90" y="354.5" font-family="&quot;Liberation Serif&quot;, serif" font-weight="bold" font-size="16.5" letter-spacing="-0.2" stroke="#000" stroke-width="0.25">IL-2</text>
<text transform="translate(187.5,429.90) rotate(-90)" text-anchor="middle" font-family="&quot;Liberation Serif&quot;, serif" font-weight="bold" font-size="10.4" stroke="#000" stroke-width="0.25">pg/mL</text>
<line x1="225.50" y1="425.20" x2="225.50" y2="422.20" stroke="#444" stroke-width="1"/>
<line x1="223.51" y1="422.60" x2="227.51" y2="422.60" stroke="#555" stroke-width="1"/>
<rect x="220.84" y="425.20" width="9.33" height="64.40" fill="#000"/>
<line x1="247.50" y1="406.90" x2="247.50" y2="399.00" stroke="#444" stroke-width="1"/>
<line x1="245.72" y1="399.40" x2="249.72" y2="399.40" stroke="#555" stroke-width="1"/>
<rect x="243.06" y="406.90" width="9.33" height="82.70" fill="#000"/>
<line x1="269.50" y1="414.00" x2="269.50" y2="413.10" stroke="#444" stroke-width="1"/>
<line x1="267.94" y1="413.50" x2="271.94" y2="413.50" stroke="#555" stroke-width="1"/>
<rect x="265.28" y="414.00" width="9.33" height="75.60" fill="#000"/>
<line x1="292.50" y1="406.90" x2="292.50" y2="400.00" stroke="#444" stroke-width="1"/>
<line x1="290.16" y1="400.40" x2="294.16" y2="400.40" stroke="#555" stroke-width="1"/>
<rect x="287.49" y="406.90" width="9.33" height="82.70" fill="#000"/>
<line x1="314.50" y1="421.90" x2="314.50" y2="416.20" stroke="#444" stroke-width="1"/>
<line x1="312.38" y1="416.60" x2="316.38" y2="416.60" stroke="#555" stroke-width="1"/>
<rect x="309.71" y="421.90" width="9.33" height="67.70" fill="#000"/>
<line x1="336.50" y1="398.80" x2="336.50" y2="397.80" stroke="#444" stroke-width="1"/>
<line x1="334.59" y1="398.20" x2="338.59" y2="398.20" stroke="#555" stroke-width="1"/>
<rect x="331.93" y="398.80" width="9.33" height="90.80" fill="#000"/>
<path d="M214.5,376.40 V489.5 H347.70" fill="none" stroke="#333" stroke-width="1"/>
<line x1="212.80" y1="376.40" x2="214.4" y2="376.40" stroke="#333" stroke-width="1"/>
<text x="211.90" y="380.30" text-anchor="end" font-family="&quot;Liberation Sans&quot;, sans-serif" font-size="8.3" font-weight="bold" stroke="#000" stroke-width="0.45" textLength="13.49" lengthAdjust="spacingAndGlyphs">1500</text>
<line x1="212.80" y1="414.13" x2="214.4" y2="414.13" stroke="#333" stroke-width="1"/>
<text x="211.90" y="418.03" text-anchor="end" font-family="&quot;Liberation Sans&quot;, sans-serif" font-size="8.3" font-weight="bold" stroke="#000" stroke-width="0.45" textLength="13.49" lengthAdjust="spacingAndGlyphs">1000</text>
<line x1="212.80" y1="451.87" x2="214.4" y2="451.87" stroke="#333" stroke-width="1"/>
<text x="211.90" y="455.77" text-anchor="end" font-family="&quot;Liberation Sans&quot;, sans-serif" font-size="8.3" font-weight="bold" stroke="#000" stroke-width="0.45" textLength="10.65" lengthAdjust="spacingAndGlyphs">500</text>
<line x1="212.80" y1="489.60" x2="214.4" y2="489.60" stroke="#333" stroke-width="1"/>
<text x="211.90" y="493.50" text-anchor="end" font-family="&quot;Liberation Sans&quot;, sans-serif" font-size="8.3" font-weight="bold" stroke="#000" stroke-width="0.21">0</text>
<line x1="236.62" y1="489.6" x2="236.62" y2="491.20" stroke="#333" stroke-width="1"/>
<line x1="258.83" y1="489.6" x2="258.83" y2="491.20" stroke="#333" stroke-width="1"/>
<line x1="281.05" y1="489.6" x2="281.05" y2="491.20" stroke="#333" stroke-width="1"/>
<line x1="303.27" y1="489.6" x2="303.27" y2="491.20" stroke="#333" stroke-width="1"/>
<line x1="325.48" y1="489.6" x2="325.48" y2="491.20" stroke="#333" stroke-width="1"/>
<line x1="347.70" y1="489.6" x2="347.70" y2="491.20" stroke="#333" stroke-width="1"/>
<text x="225.1" y="503.3" text-anchor="middle" font-family="&quot;Liberation Serif&quot;, serif" font-weight="bold" font-size="11.0" textLength="4.95" lengthAdjust="spacingAndGlyphs" stroke="#000" stroke-width="0.25">1</text>
<text x="246.7" y="503.3" text-anchor="middle" font-family="&quot;Liberation Serif&quot;, serif" font-weight="bold" font-size="11.0" textLength="4.95" lengthAdjust="spacingAndGlyphs" stroke="#000" stroke-width="0.25">2</text>
<text x="268.7" y="503.3" text-anchor="middle" font-family="&quot;Liberation Serif&quot;, serif" font-weight="bold" font-size="11.0" textLength="4.95" lengthAdjust="spacingAndGlyphs" stroke="#000" stroke-width="0.25">3</text>
<text x="290.5" y="503.3" text-anchor="middle" font-family="&quot;Liberation Serif&quot;, serif" font-weight="bold" font-size="11.0" textLength="4.95" lengthAdjust="spacingAndGlyphs" stroke="#000" stroke-width="0.25">4</text>
<text x="313.1" y="503.3" text-anchor="middle" font-family="&quot;Liberation Serif&quot;, serif" font-weight="bold" font-size="11.0" textLength="4.95" lengthAdjust="spacingAndGlyphs" stroke="#000" stroke-width="0.25">5</text>
<text x="334.8" y="503.3" text-anchor="middle" font-family="&quot;Liberation Serif&quot;, serif" font-weight="bold" font-size="11.0" textLength="4.95" lengthAdjust="spacingAndGlyphs" stroke="#000" stroke-width="0.25">6</text>
<text x="357.30" y="354.6" font-family="&quot;Liberation Sans&quot;, sans-serif" font-weight="bold" font-size="25.3">I</text>
<text x="393.60" y="354.7" font-family="&quot;Liberation Serif&quot;, serif" font-weight="bold" font-size="16.5" letter-spacing="-0.2" stroke="#000" stroke-width="0.25">IL-8</text>
<text transform="translate(358.3,432.10) rotate(-90)" text-anchor="middle" font-family="&quot;Liberation Serif&quot;, serif" font-weight="bold" font-size="10.4" stroke="#000" stroke-width="0.25">pg/mL</text>
<rect x="394.52" y="485.30" width="8.70" height="4.00" fill="#000"/>
<rect x="416.27" y="479.40" width="8.70" height="9.90" fill="#000"/>
<rect x="438.02" y="475.30" width="8.70" height="14.00" fill="#000"/>
<rect x="459.77" y="401.30" width="8.70" height="88.00" fill="#000"/>
<line x1="485.50" y1="389.40" x2="485.50" y2="385.60" stroke="#444" stroke-width="1"/>
<line x1="483.88" y1="386.00" x2="487.88" y2="386.00" stroke="#555" stroke-width="1"/>
<rect x="481.52" y="389.40" width="8.70" height="99.90" fill="#000"/>
<rect x="503.27" y="385.40" width="8.70" height="103.90" fill="#000"/>
<path d="M388.5,369.50 V489.5 H518.50" fill="none" stroke="#333" stroke-width="1"/>
<line x1="386.40" y1="369.50" x2="388.0" y2="369.50" stroke="#333" stroke-width="1"/>
<text x="385.50" y="374.10" text-anchor="end" font-family="&quot;Liberation Sans&quot;, sans-serif" font-size="7.4" font-weight="normal" stroke="#000" stroke-width="0.3" textLength="19.83" lengthAdjust="spacingAndGlyphs">30 000</text>
<line x1="386.40" y1="389.47" x2="388.0" y2="389.47" stroke="#333" stroke-width="1"/>
<text x="385.50" y="394.07" text-anchor="end" font-family="&quot;Liberation Sans&quot;, sans-serif" font-size="7.4" font-weight="normal" stroke="#000" stroke-width="0.3" textLength="19.83" lengthAdjust="spacingAndGlyphs">25 000</text>
<line x1="386.40" y1="409.43" x2="388.0" y2="409.43" stroke="#333" stroke-width="1"/>
<text x="385.50" y="414.03" text-anchor="end" font-family="&quot;Liberation Sans&quot;, sans-serif" font-size="7.4" font-weight="normal" stroke="#000" stroke-width="0.3" textLength="19.83" lengthAdjust="spacingAndGlyphs">20 000</text>
<line x1="386.40" y1="429.40" x2="388.0" y2="429.40" stroke="#333" stroke-width="1"/>
<text x="385.50" y="434.00" text-anchor="end" font-family="&quot;Liberation Sans&quot;, sans-serif" font-size="7.4" font-weight="normal" stroke="#000" stroke-width="0.3" textLength="19.06" lengthAdjust="spacingAndGlyphs">15 000</text>
<line x1="386.40" y1="449.37" x2="388.0" y2="449.37" stroke="#333" stroke-width="1"/>
<text x="385.50" y="453.97" text-anchor="end" font-family="&quot;Liberation Sans&quot;, sans-serif" font-size="7.4" font-weight="normal" stroke="#000" stroke-width="0.3" textLength="19.06" lengthAdjust="spacingAndGlyphs">10 000</text>
<line x1="386.40" y1="469.33" x2="388.0" y2="469.33" stroke="#333" stroke-width="1"/>
<text x="385.50" y="473.93" text-anchor="end" font-family="&quot;Liberation Sans&quot;, sans-serif" font-size="7.4" font-weight="normal" stroke="#000" stroke-width="0.3" textLength="15.98" lengthAdjust="spacingAndGlyphs">5 000</text>
<line x1="386.40" y1="489.30" x2="388.0" y2="489.30" stroke="#333" stroke-width="1"/>
<text x="385.50" y="493.90" text-anchor="end" font-family="&quot;Liberation Sans&quot;, sans-serif" font-size="7.4" font-weight="normal" stroke="#000" stroke-width="0.21">0</text>
<line x1="409.75" y1="489.3" x2="409.75" y2="490.90" stroke="#333" stroke-width="1"/>
<line x1="431.50" y1="489.3" x2="431.50" y2="490.90" stroke="#333" stroke-width="1"/>
<line x1="453.25" y1="489.3" x2="453.25" y2="490.90" stroke="#333" stroke-width="1"/>
<line x1="475.00" y1="489.3" x2="475.00" y2="490.90" stroke="#333" stroke-width="1"/>
<line x1="496.75" y1="489.3" x2="496.75" y2="490.90" stroke="#333" stroke-width="1"/>
<line x1="518.50" y1="489.3" x2="518.50" y2="490.90" stroke="#333" stroke-width="1"/>
<text x="396.0" y="503.1" text-anchor="middle" font-family="&quot;Liberation Serif&quot;, serif" font-weight="bold" font-size="11.0" textLength="4.95" lengthAdjust="spacingAndGlyphs" stroke="#000" stroke-width="0.25">1</text>
<text x="417.4" y="503.1" text-anchor="middle" font-family="&quot;Liberation Serif&quot;, serif" font-weight="bold" font-size="11.0" textLength="4.95" lengthAdjust="spacingAndGlyphs" stroke="#000" stroke-width="0.25">2</text>
<text x="439.0" y="503.1" text-anchor="middle" font-family="&quot;Liberation Serif&quot;, serif" font-weight="bold" font-size="11.0" textLength="4.95" lengthAdjust="spacingAndGlyphs" stroke="#000" stroke-width="0.25">3</text>
<text x="461.1" y="503.1" text-anchor="middle" font-family="&quot;Liberation Serif&quot;, serif" font-weight="bold" font-size="11.0" textLength="4.95" lengthAdjust="spacingAndGlyphs" stroke="#000" stroke-width="0.25">4</text>
<text x="483.85" y="503.1" text-anchor="middle" font-family="&quot;Liberation Serif&quot;, serif" font-weight="bold" font-size="11.0" textLength="4.95" lengthAdjust="spacingAndGlyphs" stroke="#000" stroke-width="0.25">5</text>
<text x="506.1" y="503.1" text-anchor="middle" font-family="&quot;Liberation Serif&quot;, serif" font-weight="bold" font-size="11.0" textLength="4.95" lengthAdjust="spacingAndGlyphs" stroke="#000" stroke-width="0.25">6</text>
</svg>
</body></html>
